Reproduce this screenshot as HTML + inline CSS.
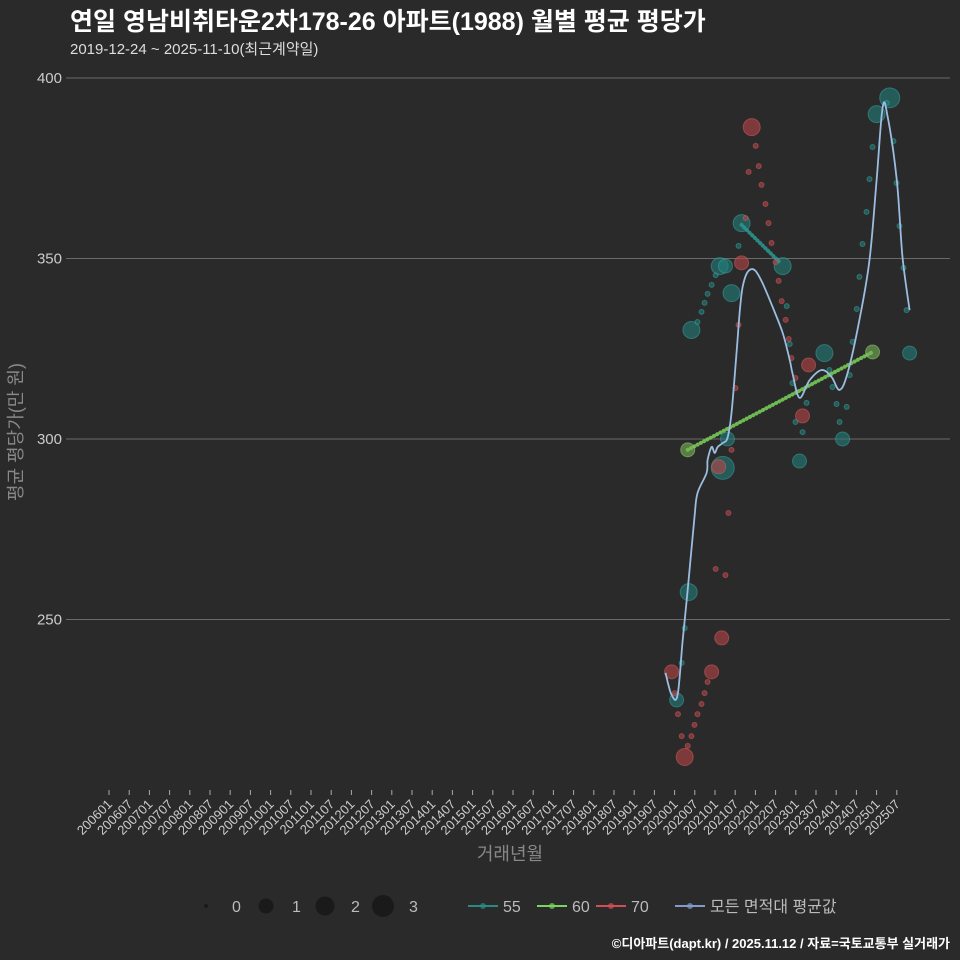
<!DOCTYPE html>
<html><head><meta charset="utf-8">
<style>
html,body{margin:0;padding:0;background:#2a2a2a;}
svg{display:block;font-family:"Liberation Sans","Noto Sans CJK KR",sans-serif;}
</style></head>
<body>
<svg id="chart" width="960" height="960" viewBox="0 0 960 960" xmlns="http://www.w3.org/2000/svg">
<rect x="0" y="0" width="960" height="960" fill="#2a2a2a"/>
<text x="70" y="30" fill="#ffffff" font-size="25" font-weight="bold">연일 영남비취타운2차178-26 아파트(1988) 월별 평균 평당가</text>
<text x="70" y="54" fill="#dddddd" font-size="15">2019-12-24 ~ 2025-11-10(최근계약일)</text>
<g id="grid"></g>
<g id="yaxis"></g>
<g id="xaxis"></g>
<text x="0" y="0" transform="translate(22,432) rotate(-90)" text-anchor="middle" fill="#888" font-size="18">평균 평당가(만 원)</text>
<text x="510" y="860" text-anchor="middle" fill="#888" font-size="18">거래년월</text>
<g id="marks"></g>
<g id="legend"></g>
<text x="950" y="948" text-anchor="end" fill="#ffffff" font-size="13" font-weight="bold">©디아파트(dapt.kr) / 2025.11.12 / 자료=국토교통부 실거래가</text>
</svg>
<script>
// months since 2006-01 (t), values (만원/평), size = count
const yTicks = [250, 300, 350, 400];
const teal55T = [173.0,168.6,172.2,174.8,176.0,176.9,177.8,179.0,180.2,181.4,183.1,184.9,187.0,187.9,200.1,201.3,202.2,203.0,205.1,206.0,203.9,207.2,212.5,214.0,214.9,216.1,217.0,217.9,219.1,220.0,220.9,222.1,222.9,223.8,225.0,225.9,226.8,228.0,231.9,231.0,233.0,233.9,234.8,236.0,236.9,237.8,183.7,182.3,170.1,171.0];
const teal55V = [330.2,227.7,257.6,332.4,335.2,337.7,340.2,342.7,345.4,347.9,347.9,340.4,353.5,359.8,347.9,336.8,326.3,315.5,293.9,301.9,304.7,310.0,323.8,319.1,314.4,309.7,304.7,300.0,308.9,317.7,326.9,336.0,344.9,354.0,362.9,372.0,380.9,390.0,394.5,393.1,382.5,370.9,359.0,347.4,335.7,323.8,300.0,292.0,238.0,247.6];
const teal55S = [2,1.5,2,0,0,0,0,0,0,2,1.5,2,0,2,2,0,0,0,1.5,0,0,0,2,0,0,0,0,1.5,0,0,0,0,0,0,0,0,0,2,2.5,0,0,0,0,0,0,1.5,1.5,3,0,0];
const teal55SegT = [187.9, 199.2];
const teal55SegV = [359.3, 349.0];
const red70T = [190.9,192.1,193.0,190.0,193.8,195.0,195.9,196.8,189.1,187.9,198.0,198.9,199.8,201.0,201.9,202.7,203.9,207.8,206.0,187.0,186.1,184.9,181.1,184.0,180.2,183.1,182.0,167.1,179.0,177.8,176.9,176.0,174.8,173.9,173.0,171.9,170.1,169.0,171.0,168.0];
const red70V = [386.4,381.2,375.6,374.0,370.4,365.1,359.8,354.3,361.2,348.8,349.0,343.8,338.2,333.0,327.7,322.4,316.9,320.5,306.4,331.6,314.1,297.0,292.3,279.5,264.0,262.3,244.9,235.5,235.5,232.7,229.6,226.6,223.8,220.8,217.7,215.0,217.7,223.8,211.9,229.6];
const red70S = [2,0,0,0,0,0,0,0,0,1.5,0,0,0,0,0,0,0,1.5,1.5,0,0,0,1.5,0,0,0,1.5,1.5,1.5,0,0,0,0,0,0,0,0,0,2,0];
const green60T = [171.9, 226.8];
const green60V = [297.0, 324.1];
const green60S = [1.5, 1.5];
const meanT = [165.3,167.1,168.9,170.4,171.9,173.9,174.8,177.5,177.8,179.0,179.9,180.8,182.3,183.7,184.9,186.4,187.3,188.2,189.7,191.8,194.1,197.1,200.1,202.2,203.0,205.1,208.1,211.7,214.6,217.0,219.4,222.9,225.9,228.0,229.8,231.3,234.0,235.7,237.8];
const meanV = [235.2,229.1,229.1,244.3,258.2,278.4,285.0,290.6,294.2,297.8,296.1,297.8,298.9,300.3,307.2,323.8,334.9,342.1,346.3,346.8,343.2,336.6,329.4,321.9,318.3,311.4,316.3,319.1,317.2,313.6,318.3,333.0,349.6,371.7,392.0,389.2,371.7,350.4,335.7];
const legendSizes = [0, 1, 2, 3];
const legendSeries = ["55", "60", "70", "모든 면적대 평균값"];

const NS = "http://www.w3.org/2000/svg";
const xS = t => 109 + t * (20.2 / 6);
const yS = v => 78 + (400 - v) * 3.61;
const rS = s => 2.5 + s * 3;
function mk(tag, attrs, parent) {
  const e = document.createElementNS(NS, tag);
  for (const k in attrs) e.setAttribute(k, attrs[k]);
  parent.appendChild(e);
  return e;
}
const grid = document.getElementById('grid');
const yax = document.getElementById('yaxis');
yTicks.forEach(v => {
  const l = mk('line', {x1: 66, x2: 950, y1: yS(v), y2: yS(v), stroke: '#6a6a6a', 'stroke-width': 1}, grid);
  
  
  const t = mk('text', {x: 62, y: yS(v) + 5, 'text-anchor': 'end', fill: '#cccccc', 'font-size': 15}, yax);
  t.textContent = v;
  
  
});
const xax = document.getElementById('xaxis');
for (let i = 0; i < 40; i++) {
  const t = i * 6;
  const yr = 2006 + Math.floor(i / 2);
  const lab = yr + (i % 2 === 0 ? '01' : '07');
  const x = xS(t);
  const tk = mk('line', {x1: x, x2: x, y1: 790, y2: 795, stroke: '#aaa', 'stroke-width': 1}, xax);
  
  
  const tx = mk('text', {x: 0, y: 0, transform: `translate(${x + 4},${805}) rotate(-45)`, 'text-anchor': 'end', fill: '#cccccc', 'font-size': 13}, xax);
  tx.textContent = lab;
  
  
}
const marks = document.getElementById('marks');
function points(T, V, S, fill, stroke, name) {
  const g = mk('g', {}, marks);
  
  
  T.forEach((t, i) => {
    const c = mk('circle', {cx: xS(t), cy: yS(V[i]), r: rS(S[i]), fill: fill, 'fill-opacity': 0.6, stroke: stroke, 'stroke-opacity': 0.5, 'stroke-width': 1}, g);
    
    
  });
}
function dotted(T, V, color, name) {
  const p = mk('line', {x1: xS(T[0]), y1: yS(V[0]), x2: xS(T[1]), y2: yS(V[1]), stroke: color, 'stroke-width': 4, 'stroke-dasharray': '0.1 3.6', 'stroke-linecap': 'round', opacity: 0.85}, marks);
  
  
}
points(teal55T, teal55V, teal55S, '#237f7c', '#3aa7a3', 'series-55');
dotted(teal55SegT, teal55SegV, '#2a9a92', 'series-55-line');
points(red70T, red70V, red70S, '#b84548', '#d86062', 'series-70');
dotted(green60T, green60V, '#7ad35a', 'series-60-line');
points(green60T, green60V, green60S, '#7ab35a', '#9cd870', 'series-60');
// smooth Catmull-Rom path through mean values
const P = meanT.map((t, i) => [xS(t), yS(meanV[i])]);
let d = 'M' + P[0][0].toFixed(1) + ',' + P[0][1].toFixed(1);
for (let i = 0; i < P.length - 1; i++) {
  const p0 = P[Math.max(0, i - 1)], p1 = P[i], p2 = P[i + 1], p3 = P[Math.min(P.length - 1, i + 2)];
  const c1 = [p1[0] + (p2[0] - p0[0]) / 6, p1[1] + (p2[1] - p0[1]) / 6];
  const c2 = [p2[0] - (p3[0] - p1[0]) / 6, p2[1] - (p3[1] - p1[1]) / 6];
  d += `C${c1[0].toFixed(1)},${c1[1].toFixed(1)} ${c2[0].toFixed(1)},${c2[1].toFixed(1)} ${p2[0].toFixed(1)},${p2[1].toFixed(1)}`;
}
const ml = mk('path', {d: d, fill: 'none', stroke: '#9bbde0', 'stroke-width': 1.8, 'stroke-linejoin': 'round'}, marks);



const leg = document.getElementById('legend');
const lx = [206, 266, 325, 383];
legendSizes.forEach((s, i) => {
  const c = mk('circle', {cx: lx[i], cy: 906, r: [2, 7.5, 9.5, 11][i], fill: '#1a1a1a'}, leg);
  
  
  const t = mk('text', {x: lx[i] + 26, y: 912, fill: '#bbb', 'font-size': 16}, leg);
  t.textContent = s;
  
  
});
const sx = [468, 537, 596, 675];
const sc = ['#2a8a88', '#7ad35a', '#d24e55', '#7f9ccc'];
legendSeries.forEach((s, i) => {
  const l = mk('line', {x1: sx[i], x2: sx[i] + 30, y1: 906, y2: 906, stroke: sc[i], 'stroke-width': 2}, leg);
  
  
  mk('circle', {cx: sx[i] + 15, cy: 906, r: 3, fill: sc[i], opacity: 0.7}, leg);
  const t = mk('text', {x: sx[i] + 35, y: 912, fill: '#bbb', 'font-size': 16}, leg);
  t.textContent = s;
  
  
});
</script>
</body></html>
